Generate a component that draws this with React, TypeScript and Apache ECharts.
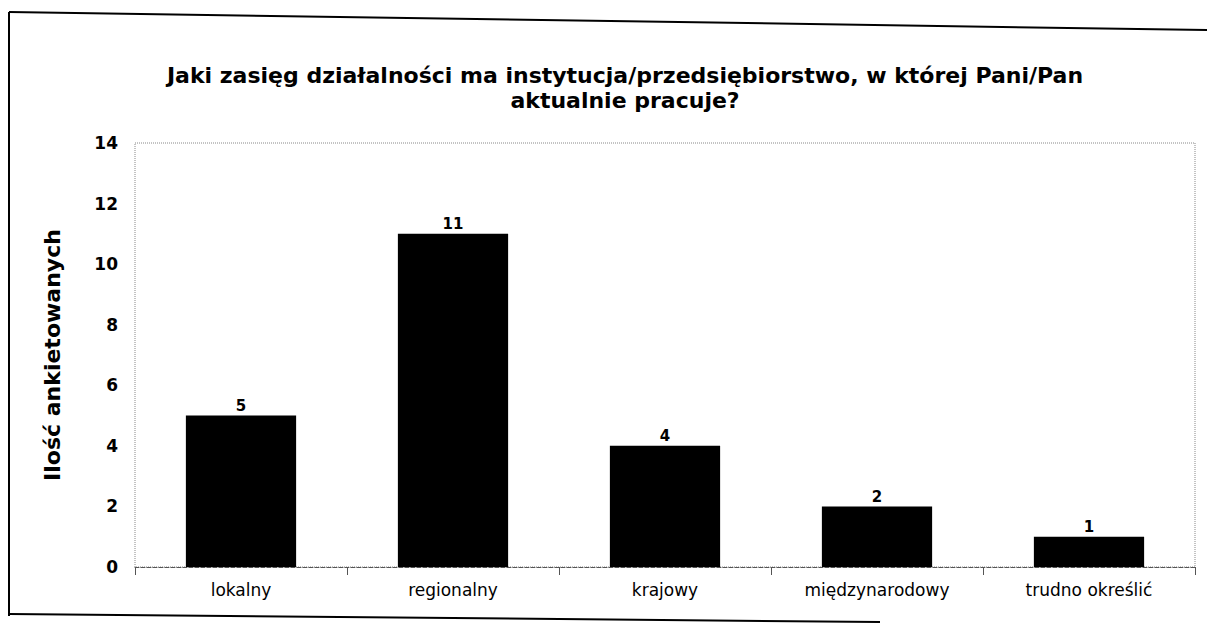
import React, { useEffect, useRef } from "react";
import * as echarts from "echarts";

const categories = ["lokalny", "regionalny", "krajowy", "międzynarodowy", "trudno określić"];
const values = [5, 11, 4, 2, 1];
const yTicks = [0, 2, 4, 6, 8, 10, 12, 14];

const titleText = "Jaki zasięg działalności ma instytucja/przedsiębiorstwo, w której Pani/Pan\naktualnie pracuje?";
const yName = "Ilość ankietowanych";

const font = "'DejaVu Sans', Verdana, sans-serif";

export default function App() {
  const ref = useRef<HTMLDivElement>(null);
  useEffect(() => {
    if (!ref.current) return;
    const chart = echarts.init(ref.current, null, { renderer: "svg" });
    chart.setOption({
      animation: false,
      backgroundColor: "#ffffff",
      title: {
        text: titleText,
        left: 620,
        top: 58,
        textAlign: "center",
        textStyle: {
          fontFamily: font,
          fontWeight: "bold",
          fontSize: 22,
          lineHeight: 25,
          color: "#000",
        },
      },
      grid: {
        left: 135,
        right: 12,
        top: 143,
        bottom: 60,
        show: true,
        borderColor: "#888",
        borderWidth: 1,
        borderType: "dotted",
      } as any,
      xAxis: {
        type: "category",
        data: categories,
        axisLine: { show: true, lineStyle: { color: "#555", type: "dashed", width: 1 } },
        axisTick: { show: true, length: 8, lineStyle: { color: "#555" } },
        axisLabel: {
          fontFamily: font,
          fontSize: 17,
          color: "#000",
          margin: 14,
        },
      },
      yAxis: {
        type: "value",
        min: 0,
        max: 14,
        interval: 2,
        name: yName,
        nameLocation: "middle",
        nameGap: 72,
        nameTextStyle: {
          fontFamily: font,
          fontWeight: "bold",
          fontSize: 22,
          color: "#000",
        },
        axisLine: { show: false },
        axisTick: { show: false },
        splitLine: { show: false },
        axisLabel: {
          fontFamily: font,
          fontWeight: "bold",
          fontSize: 17,
          color: "#000",
          margin: 17,
          formatter: (v: number) => (yTicks.includes(v) ? String(v) : ""),
        },
      },
      series: [
        {
          type: "bar",
          data: values,
          barWidth: "52%",
          itemStyle: { color: "#000" },
          label: {
            show: true,
            position: "top",
            distance: 2,
            fontFamily: font,
            fontWeight: "bold",
            fontSize: 15,
            color: "#000",
          },
        },
      ],
      graphic: [
        { type: "line", shape: { x1: 9, y1: 12, x2: 9, y2: 616 }, style: { stroke: "#000", lineWidth: 2 } },
        { type: "line", shape: { x1: 9, y1: 12, x2: 1207, y2: 30 }, style: { stroke: "#000", lineWidth: 2 } },
        { type: "line", shape: { x1: 9, y1: 614, x2: 880, y2: 622 }, style: { stroke: "#000", lineWidth: 2 } },
      ],
    });
    return () => chart.dispose();
  }, []);
  return (
    <div
      ref={ref}
      style={{ position: "fixed", left: 0, top: 0, width: 1207, height: 627 }}
    />
  );
}
